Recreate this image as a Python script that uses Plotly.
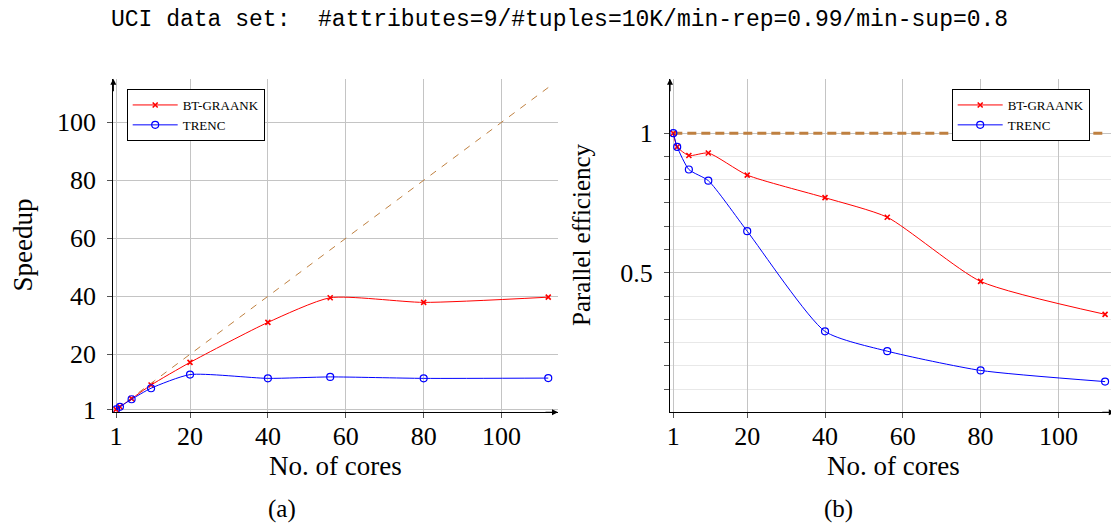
import plotly.graph_objects as go

# --------------------------------------------
# DATA
# --------------------------------------------
cores = [1, 2, 5, 10, 20, 40, 56, 80, 112]

speedup_bt = [1, 1.9, 4.7, 9.4, 17.2, 31.0, 39.5, 37.9, 39.7]
speedup_trenc = [1, 1.9, 4.5, 8.3, 13.0, 11.7, 12.2, 11.7, 11.8]

eff_bt = [1.0, 0.951, 0.920, 0.929, 0.850, 0.769, 0.699, 0.469, 0.351]
eff_trenc = [1.0, 0.951, 0.870, 0.830, 0.649, 0.290, 0.219, 0.150, 0.110]

ideal_cores = [1, 112]
ideal_speedup = [1, 112]
ideal_eff = [1, 1]

x_ticks = [1, 20, 40, 60, 80, 100]
speedup_ticks = [1, 20, 40, 60, 80, 100]
eff_ticks = [0.5, 1]
eff_minor_ticks = [k / 12 for k in range(1, 12)]

TITLE = "UCI data set:  #attributes=9/#tuples=10K/min-rep=0.99/min-sup=0.8"

SERIF = "Liberation Serif"
RED = "#ff0000"
BLUE = "#0000ff"
BROWN = "#bf8040"
GRID = "#c4c4c4"

# the page body adds an 8px margin, so the figure is a bit smaller
OFF = 8
W, H = 1119 - OFF, 525 - OFF


def px_x(p):
    return (p - OFF) / W


def px_y(p):
    return (H - (p - OFF)) / H


# --------------------------------------------
# FIGURE
# --------------------------------------------
fig = go.Figure()

# (a) speedup
fig.add_trace(go.Scatter(
    x=ideal_cores, y=ideal_speedup, mode="lines",
    line=dict(color=BROWN, width=1, dash="7px,7px"),
    showlegend=False, xaxis="x", yaxis="y"))
fig.add_trace(go.Scatter(
    x=cores, y=speedup_bt, mode="lines+markers", name="BT-GRAANK",
    line=dict(color=RED, width=1, shape="spline", smoothing=0.6),
    marker=dict(symbol="x-thin", size=5, line=dict(color=RED, width=1.6)),
    legend="legend", xaxis="x", yaxis="y"))
fig.add_trace(go.Scatter(
    x=cores, y=speedup_trenc, mode="lines+markers", name="TRENC",
    line=dict(color=BLUE, width=1, shape="spline", smoothing=0.6),
    marker=dict(symbol="circle-open", size=7, color=BLUE, line=dict(width=1.2)),
    legend="legend", xaxis="x", yaxis="y"))

# (b) parallel efficiency
fig.add_trace(go.Scatter(
    x=ideal_cores, y=ideal_eff, mode="lines",
    line=dict(color=BROWN, width=3, dash="9px,5px"),
    showlegend=False, xaxis="x2", yaxis="y2"))
fig.add_trace(go.Scatter(
    x=cores, y=eff_bt, mode="lines+markers", name="BT-GRAANK",
    line=dict(color=RED, width=1, shape="spline", smoothing=0.6),
    marker=dict(symbol="x-thin", size=5, line=dict(color=RED, width=1.6)),
    legend="legend2", xaxis="x2", yaxis="y2"))
fig.add_trace(go.Scatter(
    x=cores, y=eff_trenc, mode="lines+markers", name="TRENC",
    line=dict(color=BLUE, width=1, shape="spline", smoothing=0.6),
    marker=dict(symbol="circle-open", size=7, color=BLUE, line=dict(width=1.2)),
    legend="legend2", xaxis="x2", yaxis="y2"))

# --------------------------------------------
# AXES
# --------------------------------------------
axis_common = dict(
    showline=True, linecolor="black", linewidth=1.2,
    showgrid=True, gridcolor=GRID, gridwidth=1,
    zeroline=False, ticks="outside", ticklen=5, tickcolor="#555",
    tickfont=dict(family=SERIF, size=26, color="black"),
    automargin=False, tickmode="array",
)

bottom = px_y(412.3)
top = px_y(78.8)

fig.update_layout(
    xaxis=dict(axis_common, domain=[px_x(113.3), px_x(558)], range=[0.3, 114.5],
               tickvals=x_ticks, anchor="y", ticklabelstandoff=-5),
    yaxis=dict(axis_common, domain=[bottom, top], range=[0, 115],
               tickvals=speedup_ticks, anchor="x", ticklabelstandoff=6),
    xaxis2=dict(axis_common, domain=[px_x(670), px_x(1114.8)], range=[0.15, 114.5],
                tickvals=x_ticks, anchor="y2", ticklabelstandoff=-5),
    yaxis2=dict(axis_common, domain=[bottom, top], range=[0, 1.195],
                tickvals=eff_ticks, anchor="x2", ticklabelstandoff=6,
                minor=dict(tickmode="array", tickvals=eff_minor_ticks, ticks="outside",
                           ticklen=5, tickcolor="#555", showgrid=True,
                           gridcolor="#e8e8e8", gridwidth=1)),
)

# --------------------------------------------
# LEGENDS
# --------------------------------------------
legend_common = dict(
    font=dict(family=SERIF, size=13, color="black"),
    bgcolor="white", bordercolor="black", borderwidth=1,
    xanchor="left", yanchor="top", tracegroupgap=0, itemwidth=45,
)
fig.update_layout(
    legend=dict(legend_common, x=px_x(126.7), y=px_y(89)),
    legend2=dict(legend_common, x=px_x(951.7), y=px_y(89)),
)

# --------------------------------------------
# TEXT
# --------------------------------------------
def label(text, px, py, size, angle=0, family=SERIF, color="black"):
    return dict(text=text, x=px_x(px), y=px_y(py), xref="paper", yref="paper",
                xanchor="center", yanchor="middle", showarrow=False, textangle=angle,
                font=dict(family=family, size=size, color=color))


annotations = [
    label(TITLE, 559.5, 20, 23, family="Liberation Mono", color="black"),
    label("Speedup", 22.5, 245, 27, angle=-90),
    label("Parallel efficiency", 581, 235, 25, angle=-90),
    label("No. of cores", 335.8, 466, 27),
    label("No. of cores", 893, 466, 27),
    label("(a)", 282, 509, 25),
    label("(b)", 838, 509, 25),
]

# axis arrow heads
for xa, ya in [("x", "y"), ("x2", "y2")]:
    annotations.append(dict(text="", x=1, y=0, xref=f"{xa} domain", yref=f"{ya} domain",
                            ax=-14, ay=0, showarrow=True, arrowhead=2, arrowsize=1,
                            arrowwidth=1.2, arrowcolor="black"))
    annotations.append(dict(text="", x=0, y=1, xref=f"{xa} domain", yref=f"{ya} domain",
                            ax=0, ay=14, showarrow=True, arrowhead=2, arrowsize=1,
                            arrowwidth=1.2, arrowcolor="black"))

fig.update_layout(
    annotations=annotations,
    width=W, height=H,
    margin=dict(l=0, r=0, t=0, b=0, autoexpand=False),
    paper_bgcolor="white", plot_bgcolor="white",
)

fig.write_html("out.html")
